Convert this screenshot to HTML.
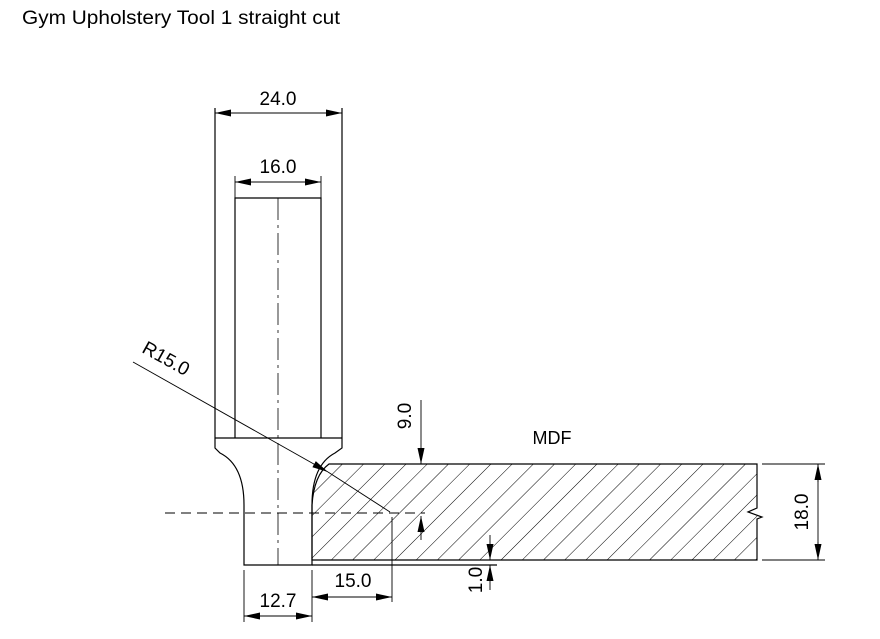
<!DOCTYPE html>
<html><head><style>
body{margin:0;background:#fff;width:880px;height:634px;overflow:hidden}
text{font-family:"Liberation Sans",sans-serif;fill:#000}
</style></head><body>
<svg width="880" height="634" viewBox="0 0 880 634" xmlns="http://www.w3.org/2000/svg">
<defs>
<pattern id="h" width="15" height="15" patternUnits="userSpaceOnUse" patternTransform="rotate(45)">
<line x1="0" y1="0" x2="0" y2="15" stroke="#000" stroke-width="1"/>
</pattern>
<marker id="a" markerWidth="16" markerHeight="8" refX="16" refY="4" orient="auto" markerUnits="userSpaceOnUse">
<path d="M0,0.5 L16,4 L0,7.5 Z" fill="#000"/></marker>
</defs>
<text x="22" y="24" font-size="19" textLength="318" lengthAdjust="spacingAndGlyphs">Gym Upholstery Tool 1 straight cut</text>
<g stroke="#000" stroke-width="1.2" fill="none">
<path d="M329,464 L757,464 L757,508 L748,512 L762,517 L757,519 L757,560 L312,560 L312,505 Q314,475 329,464 Z" fill="url(#h)"/>
<line x1="312" y1="565" x2="497" y2="565"/>
<path d="M235,438 L235,198 L321,198 L321,438"/>
<path d="M215,108 L215,448 L220,453 Q244,465 244,505 L244,565 L312,565 L312,505 Q312,465 335,453 L342,448 L342,108"/>
<line x1="215" y1="438" x2="342" y2="438"/>
<line x1="278" y1="198" x2="278" y2="565" stroke-width="0.8" stroke-dasharray="22,5,3,5"/>
<line x1="165" y1="513" x2="425" y2="513" stroke-dasharray="10,6" stroke-width="0.9"/>
<line x1="215" y1="113" x2="342" y2="113" stroke-width="0.9"/>
<path d="M231,113 L215,113" marker-end="url(#a)" stroke-width="0.9"/>
<path d="M326,113 L342,113" marker-end="url(#a)" stroke-width="0.9"/>
<line x1="235" y1="176" x2="235" y2="198" stroke-width="0.9"/>
<line x1="321" y1="176" x2="321" y2="198" stroke-width="0.9"/>
<line x1="235" y1="182" x2="321" y2="182" stroke-width="0.9"/>
<path d="M251,182 L235,182" marker-end="url(#a)" stroke-width="0.9"/>
<path d="M305,182 L321,182" marker-end="url(#a)" stroke-width="0.9"/>
<path d="M133,362 L328,472" marker-end="url(#a)" stroke-width="0.9"/>
<line x1="328" y1="472" x2="390" y2="512" stroke-width="0.9"/>
<line x1="392" y1="517" x2="392" y2="602" stroke-width="0.9"/>
<line x1="312" y1="570" x2="312" y2="622" stroke-width="0.9"/>
<line x1="244" y1="570" x2="244" y2="622" stroke-width="0.9"/>
<line x1="312" y1="597" x2="392" y2="597" stroke-width="0.9"/>
<path d="M328,597 L312,597" marker-end="url(#a)" stroke-width="0.9"/>
<path d="M376,597 L392,597" marker-end="url(#a)" stroke-width="0.9"/>
<line x1="244" y1="616" x2="312" y2="616" stroke-width="0.9"/>
<path d="M260,616 L244,616" marker-end="url(#a)" stroke-width="0.9"/>
<path d="M296,616 L312,616" marker-end="url(#a)" stroke-width="0.9"/>
<path d="M421,400 L421,464" marker-end="url(#a)" stroke-width="0.9"/>
<path d="M421,540 L421,516" marker-end="url(#a)" stroke-width="0.9"/>
<path d="M490,535 L490,560" marker-end="url(#a)" stroke-width="0.9"/>
<path d="M490,590 L490,565" marker-end="url(#a)" stroke-width="0.9"/>
<line x1="762" y1="464" x2="825" y2="464" stroke-width="0.9"/>
<line x1="762" y1="560" x2="825" y2="560" stroke-width="0.9"/>
<path d="M818,482 L818,464" marker-end="url(#a)" stroke-width="0.9"/>
<path d="M818,542 L818,560" marker-end="url(#a)" stroke-width="0.9"/>
<line x1="818" y1="480" x2="818" y2="544" stroke-width="0.9"/>
</g>
<g font-size="19" text-anchor="middle">
<text x="278" y="105">24.0</text>
<text x="278" y="173">16.0</text>
<text x="278" y="607">12.7</text>
<text x="353" y="587">15.0</text>
<text x="552" y="444" font-size="18">MDF</text>
<text transform="translate(163,364) rotate(29)">R15.0</text>
<text transform="translate(411,416) rotate(-90)">9.0</text>
<text transform="translate(482,580) rotate(-90)">1.0</text>
<text transform="translate(808,512) rotate(-90)">18.0</text>
</g>
</svg>
</body></html>
